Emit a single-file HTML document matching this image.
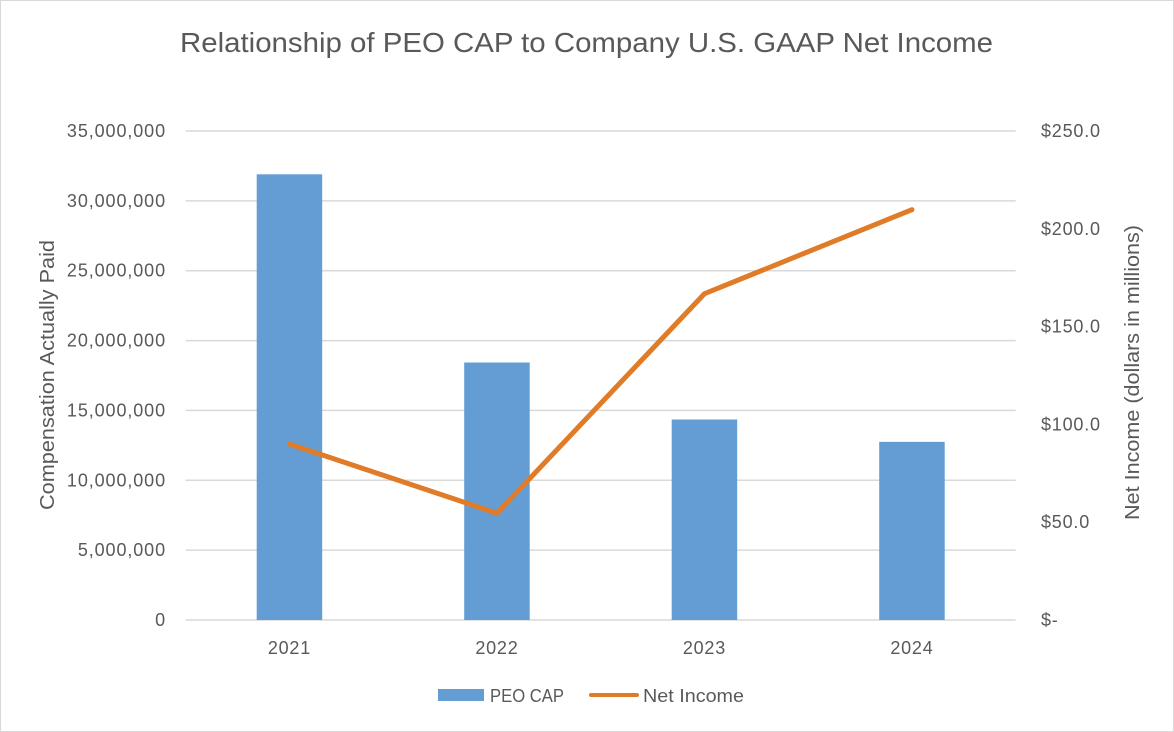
<!DOCTYPE html>
<html><head><meta charset="utf-8"><style>
html,body{margin:0;padding:0;background:#fff}
svg{display:block;font-family:"Liberation Sans",Arial,sans-serif}
</style></head><body>
<svg id="chart" width="1174" height="732" viewBox="0 0 1174 732">
<rect x="0.5" y="0.5" width="1173" height="731" fill="#fff" stroke="#d9d9d9"/>
<text x="180" y="52" font-size="28" fill="#595959" textLength="813" lengthAdjust="spacingAndGlyphs">Relationship of PEO CAP to Company U.S. GAAP Net Income</text>
<g id="grid"></g>
<g id="bars"></g>
<g id="line"></g>
<g id="axes"></g>
<text transform="translate(54,510) rotate(-90)" font-size="20" fill="#595959" textLength="270" lengthAdjust="spacingAndGlyphs">Compensation Actually Paid</text>
<text transform="translate(1139,520) rotate(-90)" font-size="20" fill="#595959" textLength="295" lengthAdjust="spacingAndGlyphs">Net Income (dollars in millions)</text>
<g>
<rect x="438" y="689" width="46" height="12" fill="#639dd4"/>
<text x="490" y="702" font-size="18" fill="#595959" textLength="74" lengthAdjust="spacingAndGlyphs">PEO CAP</text>
<line x1="591" y1="695" x2="637" y2="695" stroke="#e07b28" stroke-width="4" stroke-linecap="round"/>
<text x="643" y="702" font-size="18" fill="#595959" textLength="101" lengthAdjust="spacingAndGlyphs">Net Income</text>
</g>
</svg>
<script>
const categories = ["2021","2022","2023","2024"];
const peoCap = [31900000, 18430000, 14350000, 12750000];
const netIncome = [90.0, 54.6, 166.8, 209.8];
const leftTicks = [0,5000000,10000000,15000000,20000000,25000000,30000000,35000000];
const leftTickLabels = ["0","5,000,000","10,000,000","15,000,000","20,000,000","25,000,000","30,000,000","35,000,000"];
const rightTicks = [0,50,100,150,200,250];
const rightTickLabels = ["$-","$50.0","$100.0","$150.0","$200.0","$250.0"];

const NS="http://www.w3.org/2000/svg";
const plotL=185.7, plotR=1015.7, plotT=131, plotB=620;
const band=(plotR-plotL)/categories.length;
const xC=i=>plotL+band*(i+0.5);
const yL=v=>plotB-(v/35000000)*(plotB-plotT);
const yR=v=>plotB-(v/250)*(plotB-plotT);
function mk(tag,attrs,parent){const e=document.createElementNS(NS,tag);for(const k in attrs)e.setAttribute(k,attrs[k]);parent.appendChild(e);return e;}
const grid=document.getElementById('grid'),bars=document.getElementById('bars'),line=document.getElementById('line'),axes=document.getElementById('axes');
leftTicks.forEach((t,i)=>{
  const g=mk('line',{x1:plotL,x2:plotR,y1:yL(t),y2:yL(t),stroke:'#d9d9d9','stroke-width':1.5},grid);
  
  
  const tx=mk('text',{x:166,y:yL(t)+6,'text-anchor':'end','font-size':18,'letter-spacing':0.9,fill:'#595959'},axes);
  tx.textContent=leftTickLabels[i];
  
  
});
rightTicks.forEach((t,i)=>{
  const tx=mk('text',{x:1041,y:yR(t)+6,'text-anchor':'start','font-size':18,'letter-spacing':0.8,fill:'#595959'},axes);
  tx.textContent=rightTickLabels[i];
  
  
});
const bw=65.5;
peoCap.forEach((v,i)=>{
  const r=mk('rect',{x:xC(i)-bw/2,y:yL(v),width:bw,height:plotB-yL(v),fill:'#639dd4'},bars);
  
  
  const tx=mk('text',{x:xC(i),y:654,'text-anchor':'middle','font-size':18,'letter-spacing':0.8,fill:'#595959'},axes);
  tx.textContent=categories[i];
  
  
});
const pts=netIncome.map((v,i)=>xC(i)+','+yR(v)).join(' ');
const pl=mk('polyline',{points:pts,fill:'none',stroke:'#e07b28','stroke-width':5,'stroke-linecap':'round','stroke-linejoin':'miter'},line);


</script>
</body></html>
